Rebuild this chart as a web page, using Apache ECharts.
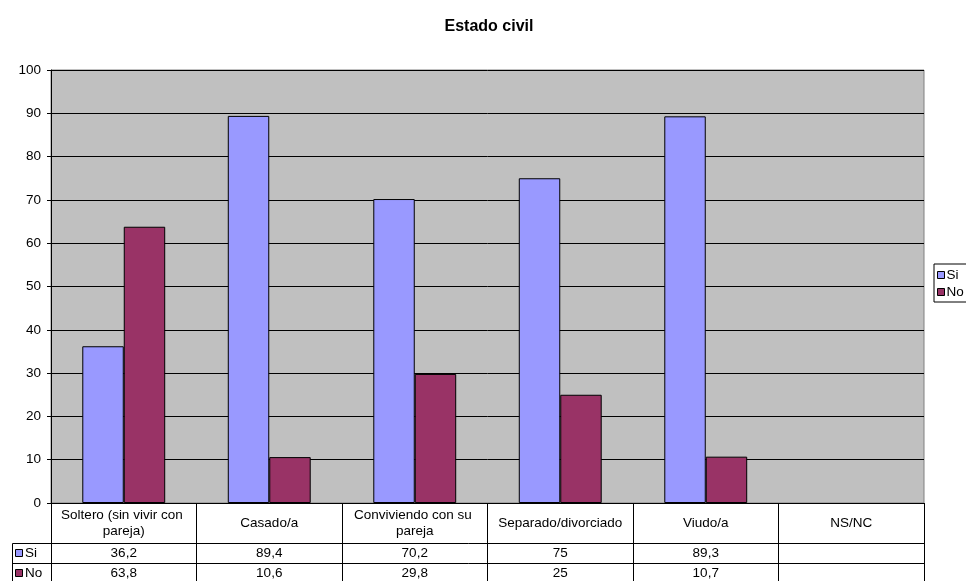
<!DOCTYPE html>
<html>
<head>
<meta charset="utf-8">
<script src="https://cdn.jsdelivr.net/npm/echarts@6/dist/echarts.min.js"></script>
<style>
html,body{margin:0;padding:0;background:#fff;}
#c{width:966px;height:581px;}
</style>
</head>
<body>
<div id="c"></div>
<script>
var titleText = 'Estado civil';
var categories = ['Soltero (sin vivir con pareja)', 'Casado/a', 'Conviviendo con su pareja', 'Separado/divorciado', 'Viudo/a', 'NS/NC'];
var seriesNames = ['Si', 'No'];
var siValues = [36.2, 89.4, 70.2, 75, 89.3, null];
var noValues = [63.8, 10.6, 29.8, 25, 10.7, null];
var yTicks = [0, 10, 20, 30, 40, 50, 60, 70, 80, 90, 100];

var FONT = "'Liberation Sans', Arial, sans-serif";
var FS = 13.5;
var W = 966, H = 581;
var GL = 51, GR = 42, GT = 70, GB = 78;
var plotBottom = H - GB;         // 503
var plotRight = W - GR;          // 924
var rowCat = 40, rowVal = 20;
var tableLeft = 12;

function fmt(v) {
  if (v === null || v === undefined) return '';
  return String(v).replace('.', ',');
}

var chart = echarts.init(document.getElementById('c'), null, {renderer: 'canvas'});

var y1 = plotBottom + rowCat + 0.5;
var y2 = plotBottom + rowCat + rowVal + 0.5;
var y3 = plotBottom + rowCat + 2 * rowVal + 0.5;

var colors = ['#9999FF', '#993366'];

var graphics = [
  {type: 'line', shape: {x1: tableLeft + 0.5, y1: y1, x2: plotRight, y2: y1}, style: {stroke: '#000', lineWidth: 1}, z: 10},
  {type: 'line', shape: {x1: tableLeft + 0.5, y1: y2, x2: plotRight, y2: y2}, style: {stroke: '#000', lineWidth: 1}, z: 10},
  {type: 'line', shape: {x1: tableLeft + 0.5, y1: y3, x2: plotRight, y2: y3}, style: {stroke: '#000', lineWidth: 1}, z: 10},
  {type: 'line', shape: {x1: tableLeft + 0.5, y1: y1, x2: tableLeft + 0.5, y2: y3}, style: {stroke: '#000', lineWidth: 1}, z: 10}
];
seriesNames.forEach(function (n, i) {
  var cy = plotBottom + rowCat + i * rowVal + rowVal / 2;
  graphics.push({type: 'rect', shape: {x: 15.5, y: Math.round(cy - 4) + 0.5, width: 7, height: 7},
    style: {fill: colors[i], stroke: '#000', lineWidth: 1}, z: 10});
  graphics.push({type: 'text', x: 25, y: cy, style: {text: n, fill: '#000', font: FS + 'px ' + FONT, textVerticalAlign: 'middle', textAlign: 'left'}, z: 10});
});

var option = {
  animation: false,
  backgroundColor: '#ffffff',
  title: {
    text: titleText,
    left: 484, top: 14, textAlign: 'center',
    textStyle: {fontFamily: FONT, fontSize: 16, fontWeight: 'bold', color: '#000'}
  },
  legend: {
    data: seriesNames,
    orient: 'vertical',
    left: 934, top: 264,
    borderColor: '#000', borderWidth: 1,
    padding: [4, 30, 3, 3],
    itemWidth: 7, itemHeight: 7, itemGap: 3,
    icon: 'rect',
    itemStyle: {borderColor: '#000', borderWidth: 1},
    textStyle: {fontFamily: FONT, fontSize: FS, color: '#000', padding: [0, 0, 0, -3]}
  },
  grid: {
    left: GL, right: GR, top: GT, bottom: GB,
    show: true, backgroundColor: '#C0C0C0', borderColor: '#808080', borderWidth: 1
  },
  xAxis: [
    {
      type: 'category', data: categories, position: 'bottom',
      axisLine: {show: true, lineStyle: {color: '#000', width: 1}},
      axisTick: {show: true, interval: 0, length: rowCat + 2 * rowVal, lineStyle: {color: '#000', width: 1}},
      axisLabel: {interval: 0, margin: rowCat / 2, verticalAlign: 'middle', width: 140, overflow: 'break',
        lineHeight: 16, fontFamily: FONT, fontSize: FS, color: '#000', align: 'center'},
      splitLine: {show: false}
    },
    {
      type: 'category', data: categories, position: 'bottom', offset: rowCat,
      axisLine: {show: false}, axisTick: {show: false},
      axisLabel: {interval: 0, margin: rowVal / 2, verticalAlign: 'middle', fontFamily: FONT, fontSize: FS, color: '#000',
        formatter: function (v, i) { return fmt(siValues[i]); }}
    },
    {
      type: 'category', data: categories, position: 'bottom', offset: rowCat + rowVal,
      axisLine: {show: false}, axisTick: {show: false},
      axisLabel: {interval: 0, margin: rowVal / 2, verticalAlign: 'middle', fontFamily: FONT, fontSize: FS, color: '#000',
        formatter: function (v, i) { return fmt(noValues[i]); }}
    }
  ],
  yAxis: {
    type: 'value', min: yTicks[0], max: yTicks[yTicks.length - 1], interval: yTicks[1] - yTicks[0],
    axisLine: {show: true, lineStyle: {color: '#000', width: 1}},
    axisTick: {show: true, length: 4, lineStyle: {color: '#000'}},
    axisLabel: {margin: 10, fontFamily: FONT, fontSize: FS, color: '#000'},
    splitLine: {show: true, lineStyle: {color: '#000', width: 1}}
  },
  series: [
    {
      name: seriesNames[0], type: 'bar', data: siValues, xAxisIndex: 0,
      barGap: '0%', barCategoryGap: '43%',
      itemStyle: {color: colors[0], borderColor: '#000', borderWidth: 1}
    },
    {
      name: seriesNames[1], type: 'bar', data: noValues, xAxisIndex: 0,
      barGap: '0%', barCategoryGap: '43%',
      itemStyle: {color: colors[1], borderColor: '#000', borderWidth: 1}
    }
  ],
  graphic: graphics
};
chart.setOption(option);
</script>
</body>
</html>
